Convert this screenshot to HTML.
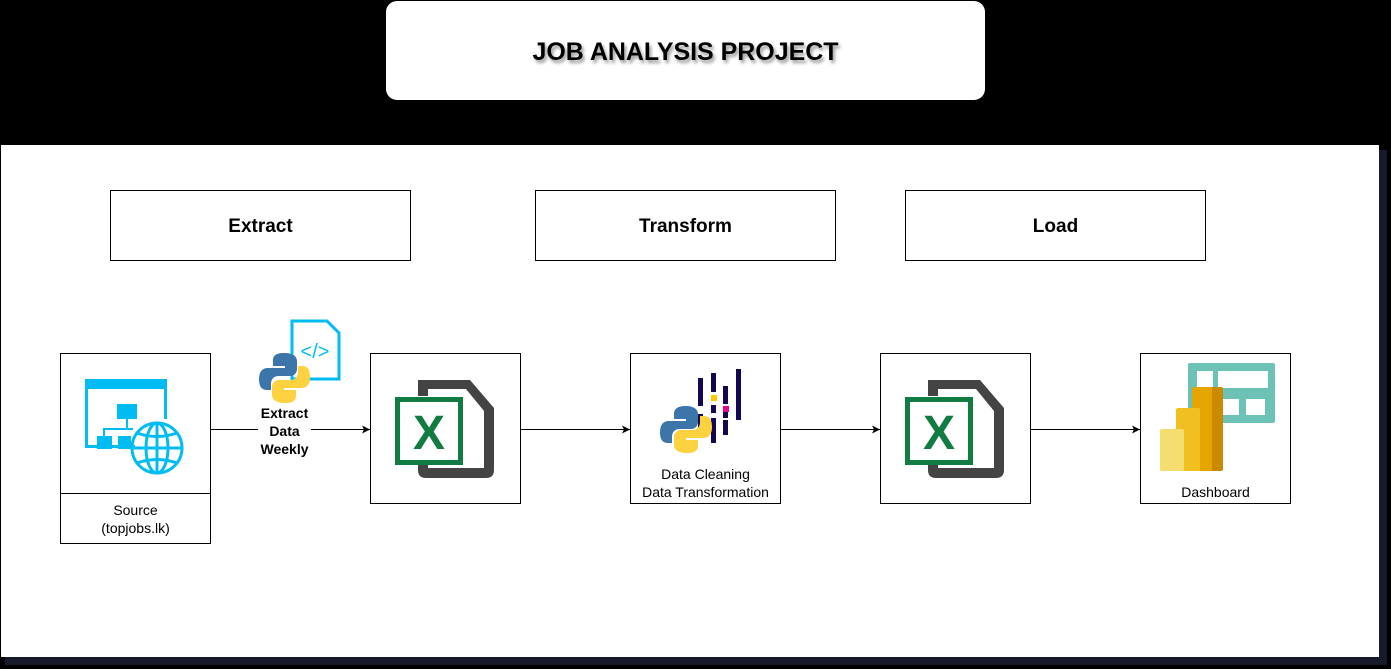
<!DOCTYPE html>
<html><head><style>
html,body{margin:0;padding:0;background:#000;}
svg{display:block;}
text{font-family:"Liberation Sans",Arial,sans-serif;}
</style></head><body>
<svg width="1391" height="669" viewBox="0 0 1391 669" xmlns="http://www.w3.org/2000/svg">
<defs>
<marker id="ar" markerWidth="10" markerHeight="10" refX="9" refY="5" orient="auto" markerUnits="userSpaceOnUse">
<path d="M1,1 L9,5 L1,9 L3,5 Z" fill="#000"/>
</marker>
<filter id="ts"><feDropShadow dx="2" dy="3" stdDeviation="1.5" flood-color="#000" flood-opacity="0.4"/></filter>
</defs>
<rect width="1391" height="669" fill="#000"/>
<rect x="1" y="145" width="1378" height="512" fill="#fff"/>
<rect x="1379" y="150" width="8" height="512" fill="#161a2a"/>
<rect x="5" y="657" width="1382" height="8" fill="#161a2a"/>
<rect x="386" y="1" width="599" height="99" rx="11" fill="#fff"/>
<text x="685.5" y="60" text-anchor="middle" font-size="25" font-weight="bold" filter="url(#ts)" textLength="306" lengthAdjust="spacingAndGlyphs">JOB ANALYSIS PROJECT</text>

<g fill="#fff" stroke="#000" stroke-width="1">
<rect x="110.5" y="190.5" width="300" height="70"/>
<rect x="535.5" y="190.5" width="300" height="70"/>
<rect x="905.5" y="190.5" width="300" height="70"/>
</g>
<g font-size="19" font-weight="bold" text-anchor="middle">
<text x="260.5" y="232">Extract</text>
<text x="685.5" y="232">Transform</text>
<text x="1055.5" y="232">Load</text>
</g>

<g stroke="#000" stroke-width="1" fill="none">
<line x1="210" y1="429.5" x2="258" y2="429.5"/>
<line x1="311" y1="429.5" x2="370" y2="429.5" marker-end="url(#ar)"/>
<line x1="520" y1="429.5" x2="630" y2="429.5" marker-end="url(#ar)"/>
<line x1="780" y1="429.5" x2="880" y2="429.5" marker-end="url(#ar)"/>
<line x1="1030" y1="429.5" x2="1140" y2="429.5" marker-end="url(#ar)"/>
</g>

<g fill="#fff" stroke="#000" stroke-width="1">
<rect x="60.5" y="353.5" width="150" height="190"/>
<line x1="60.5" y1="493.5" x2="210.5" y2="493.5"/>
<rect x="370.5" y="353.5" width="150" height="150"/>
<rect x="630.5" y="353.5" width="150" height="150"/>
<rect x="880.5" y="353.5" width="150" height="150"/>
<rect x="1140.5" y="353.5" width="150" height="150"/>
</g>
<g font-size="14" text-anchor="middle">
<text x="135.5" y="515">Source</text>
<text x="135.5" y="533">(topjobs.lk)</text>
<text x="705.5" y="479">Data Cleaning</text>
<text x="705.5" y="497">Data Transformation</text>
<text x="1215.5" y="497">Dashboard</text>
</g>
<g font-size="14" font-weight="bold" text-anchor="middle">
<text x="284.5" y="418">Extract</text>
<text x="284.5" y="436">Data</text>
<text x="284.5" y="454">Weekly</text>
</g>

<g fill="#00bcf2">
<rect x="85" y="379" width="82" height="10"/>
<rect x="85" y="389" width="3" height="58"/>
<rect x="164" y="389" width="3" height="30"/>
<rect x="85" y="445" width="50" height="3"/>
<rect x="117" y="404" width="20" height="15"/>
<rect x="126" y="419" width="2" height="10"/>
<rect x="103" y="428" width="30" height="2"/>
<rect x="103" y="428" width="2" height="10"/>
<rect x="97" y="436" width="15" height="13"/>
<rect x="118" y="436" width="13" height="13"/>
</g>
<g fill="none" stroke="#00bcf2" stroke-width="3">
<circle cx="157" cy="448" r="25"/>
<ellipse cx="157" cy="448" rx="11" ry="25"/>
<line x1="157" y1="423" x2="157" y2="473"/>
<line x1="132" y1="448" x2="182" y2="448"/>
<path d="M137,433 Q157,440 177,433"/>
<path d="M137,463 Q157,456 177,463"/>
</g>

<path d="M292,321 H327 L339,333 V379 H292 Z" fill="#fff" stroke="#00bcf2" stroke-width="3"/>
<text x="315" y="358" text-anchor="middle" font-size="20" fill="#00bcf2">&lt;/&gt;</text>
<g>
<path d="M284,353 c-10,0 -11,4 -11,8 v5 h12 v2 h-17 c-6,0 -9,4 -9,11 c0,8 3,11 8,11 h4 v-6 c0,-5 3,-8 8,-8 h11 c4,0 7,-3 7,-7 v-8 c0,-5 -5,-8 -13,-8 z" fill="#3b75a9"/>
<path d="M285,403 c10,0 11,-4 11,-8 v-5 h-12 v-2 h17 c6,0 9,-4 9,-11 c0,-8 -3,-11 -8,-11 h-4 v6 c0,5 -3,8 -8,8 h-11 c-4,0 -7,3 -7,7 v8 c0,5 5,8 13,8 z" fill="#fdd240"/>
</g>

<g id="xl">
<path d="M418,380 H470 L494,408 V470 Q494,478 486,478 H426 Q418,478 418,470 V462 H428 V468 H484 V411 L466,389 H428 V396 H418 Z" fill="#444"/>
<rect x="397.5" y="399.5" width="63" height="63" fill="#fff" stroke="#107c41" stroke-width="5"/>
<text x="429" y="449" text-anchor="middle" font-size="48" font-weight="bold" fill="#107c41">X</text>
</g>
<use href="#xl" x="510" y="0"/>

<g fill="#130754">
<rect x="698" y="378" width="5" height="28"/>
<rect x="698" y="414" width="5" height="14"/>
<rect x="711" y="373" width="5" height="19"/>
<rect x="711" y="405" width="5" height="8"/>
<rect x="711" y="418" width="5" height="25"/>
<rect x="723" y="386" width="5" height="18"/>
<rect x="723" y="412" width="5" height="6"/>
<rect x="723" y="420" width="5" height="15"/>
<rect x="736" y="369" width="5" height="51"/>
</g>
<rect x="711" y="395" width="6" height="6" fill="#ffca00"/>
<rect x="723" y="406" width="6" height="6" fill="#e70488"/>
<path d="M686,406 c-10,0 -12,4 -12,8 v5 h12 v2 h-17 c-6,0 -9,4 -9,11 c0,8 3,11 8,11 h4 v-6 c0,-5 3,-8 8,-8 h11 c4,0 7,-3 7,-7 v-8 c0,-5 -5,-8 -12,-8 z" fill="#3b75a9"/>
<path d="M687,453 c10,0 11,-4 11,-8 v-5 h-12 v-2 h17 c6,0 9,-4 9,-11 c0,-8 -3,-11 -8,-11 h-4 v6 c0,5 -3,8 -8,8 h-11 c-4,0 -7,3 -7,7 v8 c0,5 5,8 13,8 z" fill="#fdd240"/>

<rect x="1188" y="363" width="87" height="60" rx="2" fill="#6dc2b6"/>
<g fill="#fff">
<rect x="1197" y="371" width="16" height="17"/>
<rect x="1218" y="371" width="50" height="17"/>
<rect x="1222" y="399" width="17" height="16"/>
<rect x="1246" y="399" width="19" height="16"/>
</g>
<rect x="1192" y="387" width="31" height="84" rx="2" fill="#c98a00"/>
<rect x="1192" y="387" width="20" height="84" rx="2" fill="#e5a500"/>
<rect x="1176" y="408" width="24" height="63" rx="2" fill="#f0c020"/>
<rect x="1160" y="429" width="24" height="42" rx="2" fill="#f5dd70"/>
</svg>
</body></html>
